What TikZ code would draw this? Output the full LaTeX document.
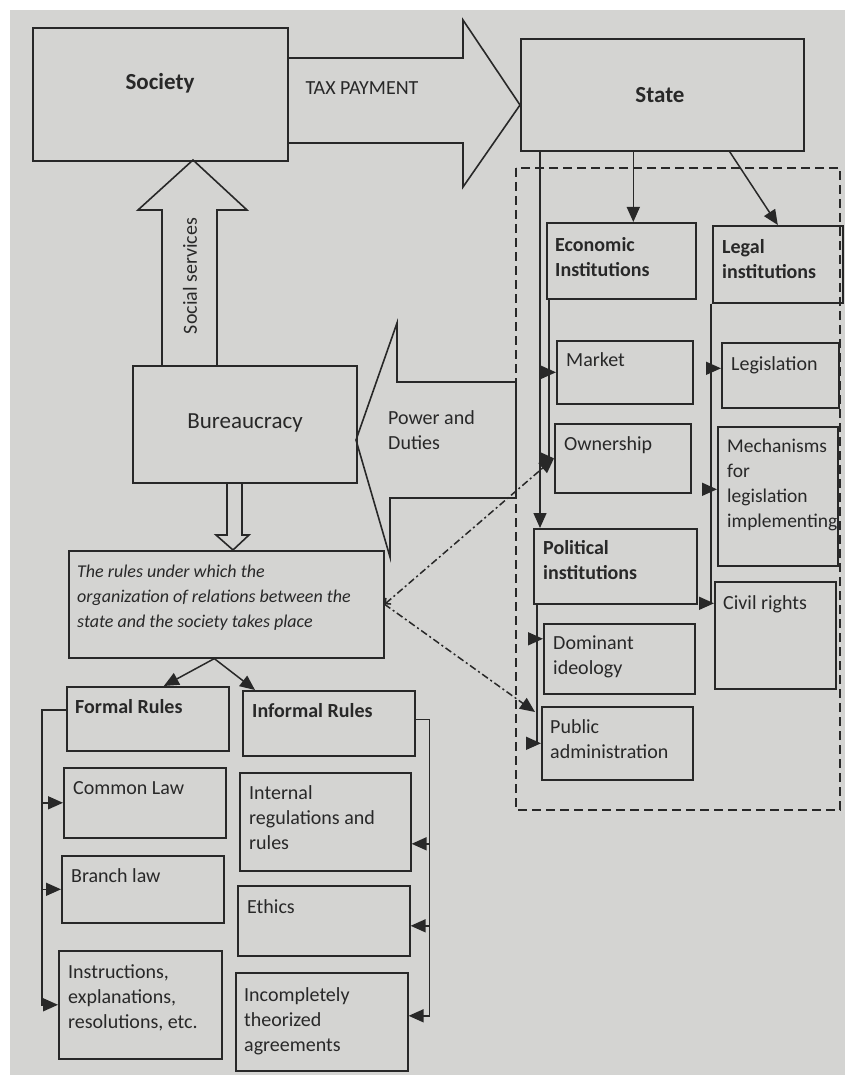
\documentclass[tikz,border=0pt]{standalone}
\usepackage{fontspec}
\setmainfont{Carlito}
\usetikzlibrary{arrows.meta}

\definecolor{paper}{RGB}{212,212,210}
\definecolor{ink}{RGB}{40,40,40}

\tikzset{
  box/.style={draw=ink, line width=1.6pt, anchor=north west, inner sep=0pt},
  lbl/.style={text=ink, anchor=north west, inner sep=0pt, align=left, font=\fontsize{20}{25}\selectfont},
  boldlbl/.style={lbl, font=\fontsize{20}{25}\selectfont\bfseries},
  big/.style={text=ink, inner sep=0pt, font=\fontsize{23}{28}\selectfont},
  conn/.style={draw=ink, line width=1.5pt},
  arr/.style={conn, -{Triangle[length=15pt,width=13pt]}},
  dotline/.style={dash pattern=on 7pt off 3pt on 2pt off 3pt},
  block/.style={draw=ink, fill=paper, line width=1.6pt, line join=miter},
}

\begin{document}
\begin{tikzpicture}[x=1pt, y=-1pt]
\useasboundingbox (0,0) rectangle (845,1075);
\fill[white] (0,0) rectangle (845,1075);
\fill[paper] (10,10) rectangle (845,1075);

% dashed frame of the state institutions
\draw[ink, line width=1.6pt, dash pattern=on 9pt off 5pt] (516,168) rectangle (840,810);

% big arrows
\draw[block] (287,58) -- (463,58) -- (463,20) -- (520,105) -- (463,187) -- (463,143) -- (287,143);
\draw[block] (162,365) -- (162,210) -- (138,210) -- (193,160) -- (247,210) -- (217,210) -- (217,365);
\draw[block] (516,382) -- (397,382) -- (397,323) -- (356,440) -- (390,557) -- (390,498) -- (516,498) -- cycle;
\draw[block] (227,482) -- (227,535) -- (216,535) -- (233,550) -- (249,535) -- (242,535) -- (242,482);
\node[lbl, anchor=center] (tax-t) at (362,88) {TAX PAYMENT};
\node[lbl, anchor=center, rotate=90] (social-t) at (190,276) {Social services};
\node[lbl] (power-t) at (388,410) {Power and\\Duties};

% top row
\node[box, minimum width=255pt, minimum height=133pt] (society) at (32,27) {};
\node[box, minimum width=283pt, minimum height=112pt] (state) at (520,38) {};
\node[big, font=\fontsize{23}{28}\selectfont\bfseries] (society-t) at (160,83) {Society};
\node[big, font=\fontsize{23}{28}\selectfont\bfseries] (state-t) at (660,95) {State};

% bureaucracy and rules
\node[box, minimum width=224pt, minimum height=117pt] (bureau) at (132,365) {};
\node[big] (bureau-t) at (245,423) {Bureaucracy};

\node[box, minimum width=315pt, minimum height=107pt] (rules) at (68,550) {};
\node[lbl, font=\fontsize{18}{25}\selectfont\itshape] (rules-t) at (77,565)
  {The rules under which the\\organization of relations between the\\state and the society takes place};

% formal and informal rules
\node[box, minimum width=162pt, minimum height=64pt] (formal) at (66,686) {};
\node[box, minimum width=172pt, minimum height=65pt] (informal) at (242,690) {};
\node[box, minimum width=162pt, minimum height=70pt] (common) at (63,767) {};
\node[box, minimum width=162pt, minimum height=67pt] (branch) at (61,855) {};
\node[box, minimum width=163pt, minimum height=108pt] (instr) at (58,950) {};
\node[box, minimum width=171pt, minimum height=98pt] (internal) at (239,772) {};
\node[box, minimum width=172pt, minimum height=70pt] (ethics) at (237,885) {};
\node[box, minimum width=172pt, minimum height=98pt] (incompl) at (235,972) {};

\node[boldlbl] (formal-t) at (75,699) {Formal Rules};
\node[boldlbl] (informal-t) at (252,703) {Informal Rules};
\node[lbl] (common-t) at (73,781) {Common Law};
\node[lbl] (branch-t) at (71,868) {Branch law};
\node[lbl] (instr-t) at (68,964) {Instructions,\\explanations,\\resolutions, etc.};
\node[lbl] (internal-t) at (249,785) {Internal\\regulations and\\rules};
\node[lbl] (ethics-t) at (247,899) {Ethics};
\node[lbl] (incompl-t) at (244,987) {Incompletely\\theorized\\agreements};

% state institutions
\node[box, minimum width=149pt, minimum height=76pt] (econ) at (546,222) {};
\node[box, minimum width=130pt, minimum height=77pt] (legal) at (712,225) {};
\node[box, minimum width=136pt, minimum height=63pt] (market) at (556,340) {};
\node[box, minimum width=136pt, minimum height=69pt] (owner) at (554,423) {};
\node[box, minimum width=163pt, minimum height=75pt] (polit) at (533,528) {};
\node[box, minimum width=151pt, minimum height=70pt] (domin) at (543,623) {};
\node[box, minimum width=151pt, minimum height=73pt] (public) at (541,706) {};
\node[box, minimum width=117pt, minimum height=65pt] (legis) at (721,342) {};
\node[box, minimum width=120pt, minimum height=139pt] (mech) at (717,426) {};
\node[box, minimum width=121pt, minimum height=107pt] (civil) at (714,581) {};

\node[boldlbl] (econ-t) at (555,237) {Economic\\Institutions};
\node[boldlbl] (legal-t) at (722,239) {Legal\\institutions};
\node[lbl] (market-t) at (566,352) {Market};
\node[lbl] (owner-t) at (564,436) {Ownership};
\node[boldlbl] (polit-t) at (543,540) {Political\\institutions};
\node[lbl] (domin-t) at (553,636) {Dominant\\ideology};
\node[lbl] (public-t) at (550,719) {Public\\administration};
\node[lbl] (legis-t) at (731,356) {Legislation};
\node[lbl, font=\fontsize{19.5}{25}\selectfont] (mech-t) at (727,439) {Mechanisms\\for\\legislation\\implementing};
\node[lbl] (civil-t) at (723,595) {Civil rights};

% connectors
\draw[arr] ([xshift=-12pt]rules.south) -- ([xshift=16pt]formal.north);
\draw[arr] ([xshift=-12pt]rules.south) -- ([xshift=13pt]informal.north west);

\foreach \t in {common, branch, instr}
  \draw[arr] ([yshift=9pt]formal.west) -- ++(-24,0) |- (\t.west);
\foreach \t/\s in {internal/-22pt, ethics/-5pt, incompl/6pt}
  \draw[arr] ([yshift=4pt]informal.east) -- ++(14,0) |- ([yshift=\s]\t.west -| \t.east);

\draw[arr] ([xshift=12pt]econ.north |- state.south) -- ([xshift=12pt]econ.north);
\draw[arr] ([xshift=-75pt]state.south east) -- (legal.north);
\draw[arr] ([xshift=20pt]state.south west) -- ([xshift=20pt]state.south west |- polit.north);

\foreach \t in {market, owner}
  \draw[arr] ([xshift=3pt]econ.south west) |- (\t.west);
\foreach \t/\s in {legis/7pt, mech/7pt, civil/32pt}
  \draw[arr] ([xshift=-1pt]legal.south west) |- ([yshift=\s]\t.west);
\foreach \t/\s in {domin/20pt, public/0pt}
  \draw[arr] ([xshift=4pt]polit.south west) |- ([yshift=\s]\t.west);

\draw[conn, dotline, {Straight Barb[length=4pt,width=8pt]}-{Triangle[length=15pt,width=13pt]}] (rules.east) -- (owner.west);
\draw[arr, dotline] (rules.east) -- ([xshift=-6pt, yshift=-6pt]public.north west);
\end{tikzpicture}
\end{document}
